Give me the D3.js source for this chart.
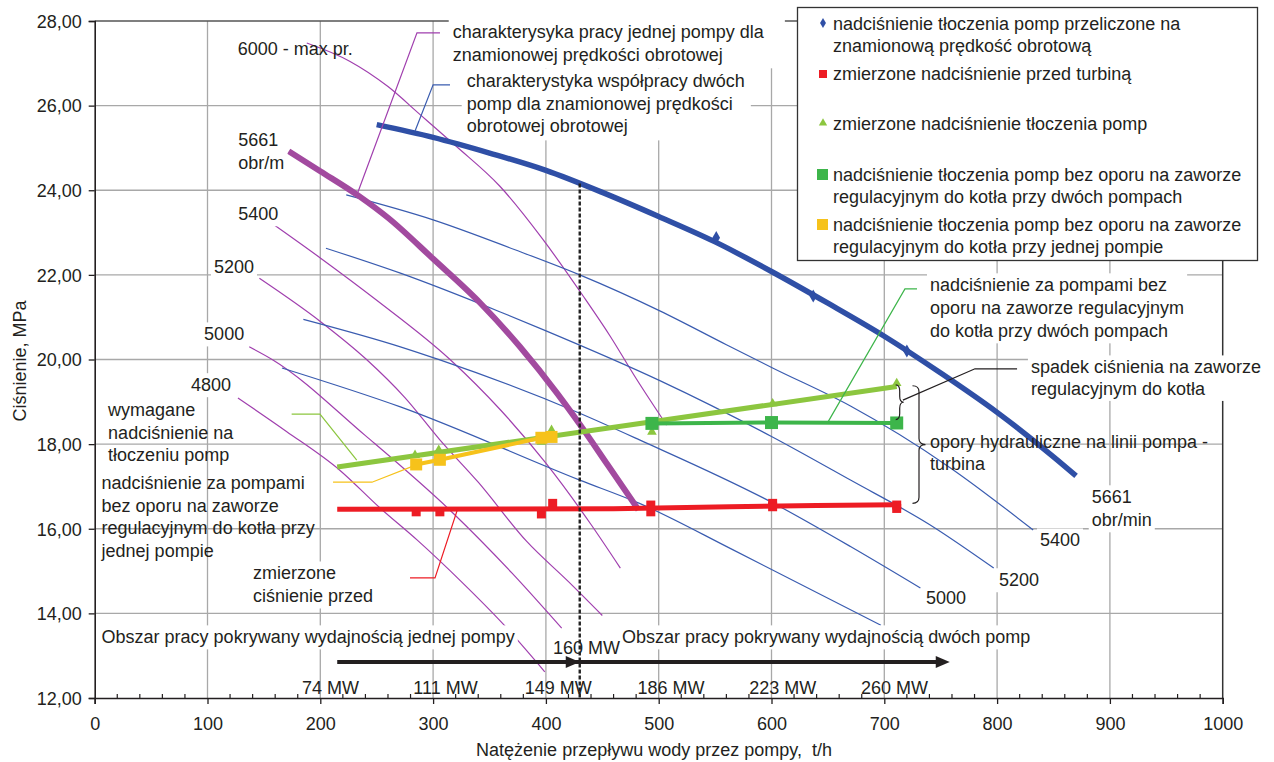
<!DOCTYPE html>
<html>
<head>
<meta charset="utf-8">
<script src="https://cdn.jsdelivr.net/npm/d3@7"></script>
<style>
  body { margin: 0; background: #ffffff; }
  svg text { font-family: "Liberation Sans", Arial, Helvetica, sans-serif; font-size: 18px; fill: #231f20; white-space: pre; }
</style>
</head>
<body>
<svg id="chart" width="1274" height="762"></svg>
<script>
// ---- axes ----
const flowTicks = [0, 100, 200, 300, 400, 500, 600, 700, 800, 900, 1000];
const pressureTicks = [12, 14, 16, 18, 20, 22, 24, 26, 28];

// ---- two pumps at nominal speed (recalculated discharge pressure), [t/h, MPa] ----
const twoPumpsNominal = [[250,25.55],[300,25.25],[350,24.88],[400,24.47],[450,23.95],[500,23.38],[550,22.78],[600,22.08],[650,21.33],[700,20.55],[750,19.68],[800,18.75],[850,17.70],[870,17.25]];
const twoPumpsNominalPoints = [[551,22.88],[637,21.50],[720,20.20]];

// ---- one pump at nominal speed 5661 rpm ----
const onePumpNominal = [[172,24.92],[200,24.45],[235,23.85],[260,23.35],[300,22.38],[342,21.33],[377,20.30],[410,19.20],[430,18.47],[455,17.50],[482,16.45]];

// ---- one pump at other speeds ----
const onePump6000 = [[188,27.48],[226,27.05],[260,26.45],[288,25.80],[320,25.05],[359,24.10],[397,22.85],[433,21.50],[457,20.55],[480,19.55],[507,18.45]];
const onePump5400 = [[157,23.22],[200,22.40],[250,21.40],[315,20.00],[360,18.80],[400,17.55],[440,16.10],[466,15.07]];
const onePump5200 = [[146,21.92],[200,20.90],[241,20.00],[275,19.10],[306,18.10],[340,17.10],[383,15.70],[420,14.75],[450,13.95]];
const onePump5000 = [[137,20.30],[158,19.99],[240,18.20],[318,16.36],[370,14.95],[414,13.65]];
const onePump4800 = [[127,19.09],[170,18.30],[217,17.39],[253,16.49],[286,15.73],[325,14.75],[362,13.75],[399,12.62]];

// ---- two pumps at other speeds ----
const twoPumps5400 = [[223,23.89],[300,23.30],[372,22.60],[430,22.00],[501,21.15],[560,20.35],[601,19.80],[670,18.90],[758,17.45],[832,15.97]];
const twoPumps5200 = [[205,22.63],[271,22.04],[359,21.13],[398,20.70],[501,19.50],[600,18.18],[670,17.15],[740,16.10],[797,15.07]];
const twoPumps5000 = [[185,20.95],[271,20.30],[306,19.99],[430,18.73],[483,18.10],[602,16.60],[670,15.58],[732,14.60]];
const twoPumps4800 = [[166,19.80],[271,18.88],[430,17.15],[483,16.60],[566,15.50],[697,13.72]];

// ---- measurements ----
const pumpDischarge = [[284,17.74],[305,17.86],[396,18.05],[405,18.33],[494,18.29],[601,18.96],[711,19.44]];
const requiredDischarge = [[215,17.46],[711,19.36]];
const noValveTwoPumps = [[494,18.49],[600,18.51],[711,18.50]];
const noValveOnePump = [[285,17.52],[306,17.63],[396,18.15],[405,18.17]];
const turbineInlet = [[285,16.40],[306,16.40],[396,16.35],[406,16.60],[493,16.56],[493,16.40],[601,16.60],[601,16.52],[711,16.56],[711,16.48]];
const turbineInletTrend = [[215,16.46],[460,16.47],[563,16.52],[640,16.55],[711,16.57]];

// ---- operating ranges and unit power ----
const switchFlow = 430;
const rangeArrow = [215, 430, 758];
const powerLabels = ["74 MW", "111 MW", "149 MW", "186 MW", "223 MW", "260 MW"];
const powerFlows = [209, 311, 411, 511, 610, 709];

// ---------------------------------------------------------------
const svg = d3.select("#chart");
const x = d3.scaleLinear().domain([0, 1000]).range([94.7, 1222.7]);
const y = d3.scaleLinear().domain([12, 28]).range([698, 21]);

const C = {
  blue: "#2f4fa6", blueThin: "#3a5cb0",
  purple: "#a24a9f", purpleThin: "#a03fae",
  lime: "#8cc63f", green: "#3db54a", yellow: "#f6c21b", red: "#ed1c24",
  grid: "#a8a8a8", ink: "#231f20"
};

const line = d3.line().x(d => x(d[0])).y(d => y(d[1]));
const smooth = d3.line().x(d => x(d[0])).y(d => y(d[1])).curve(d3.curveMonotoneX);

// grid
const grid = svg.append("g");
grid.selectAll("line.v").data(flowTicks.filter(d => d > 0 && d < 1000)).join("line")
  .attr("x1", d => x(d)).attr("x2", d => x(d)).attr("y1", y(12)).attr("y2", y(28))
  .attr("stroke", C.grid).attr("stroke-width", 1.3);
grid.selectAll("line.h").data(pressureTicks.filter(d => d > 12 && d < 28)).join("line")
  .attr("x1", x(0)).attr("x2", x(1000)).attr("y1", d => y(d)).attr("y2", d => y(d))
  .attr("stroke", C.grid).attr("stroke-width", 1.3);

// frame
svg.append("line").attr("x1", x(0)).attr("x2", x(1000)).attr("y1", y(28)).attr("y2", y(28))
  .attr("stroke", "#555").attr("stroke-width", 1.3);
svg.append("line").attr("x1", x(1000)).attr("x2", x(1000)).attr("y1", y(28)).attr("y2", y(12))
  .attr("stroke", "#333").attr("stroke-width", 1.5);

// axes
const xAxis = svg.append("g").attr("transform", `translate(0,${y(12)})`)
  .call(d3.axisBottom(x).tickValues(flowTicks).tickSize(6).tickPadding(13).tickFormat(d3.format("d")));
const yAxis = svg.append("g").attr("transform", `translate(${x(0)},0)`)
  .call(d3.axisLeft(y).tickValues(pressureTicks).tickSize(6).tickPadding(7).tickFormat(d => d.toFixed(2).replace(".", ",")));
[xAxis, yAxis].forEach(a => {
  a.select(".domain").attr("stroke", C.ink).attr("stroke-width", 1.6);
  a.selectAll(".tick line").attr("stroke", C.ink).attr("stroke-width", 1.3);
  a.selectAll("text").attr("font-family", null).attr("font-size", null).attr("fill", C.ink);
});
yAxis.selectAll(".tick text").attr("dy", "0.35em");
// minor ticks every 20 t/h
svg.append("g").selectAll("line").data(d3.range(20, 1000, 20).filter(d => d % 100 !== 0)).join("line")
  .attr("x1", d => x(d)).attr("x2", d => x(d)).attr("y1", y(12)).attr("y2", y(12) - 4)
  .attr("stroke", C.ink).attr("stroke-width", 1.2);

svg.append("text").attr("x", 654).attr("y", 750).attr("dy", "0.35em").attr("text-anchor", "middle")
  .text("Natężenie przepływu wody przez pompy,  t/h");
svg.append("text").attr("transform", "translate(20,361) rotate(-90)").attr("dy", "0.35em").attr("text-anchor", "middle")
  .text("Ciśnienie, MPa");

// pump curves
const curves = svg.append("g").attr("fill", "none");
[onePump6000, onePump5400, onePump5200, onePump5000, onePump4800].forEach(s =>
  curves.append("path").attr("d", smooth(s)).attr("stroke", C.purpleThin).attr("stroke-width", 1.2));
[twoPumps5400, twoPumps5200, twoPumps5000, twoPumps4800].forEach(s =>
  curves.append("path").attr("d", smooth(s)).attr("stroke", C.blueThin).attr("stroke-width", 1.2));
curves.append("path").attr("d", smooth(onePumpNominal)).attr("stroke", C.purple).attr("stroke-width", 6);
curves.append("path").attr("d", smooth(twoPumpsNominal)).attr("stroke", C.blue).attr("stroke-width", 5.5);
svg.append("g").selectAll("path").data(twoPumpsNominalPoints).join("path")
  .attr("d", d3.symbol(d3.symbolDiamond, 50)).attr("fill", C.blue)
  .attr("transform", d => `translate(${x(d[0])},${y(d[1])})`);

// measured series
const meas = svg.append("g");
meas.append("path").attr("d", line(requiredDischarge)).attr("fill", "none").attr("stroke", C.lime).attr("stroke-width", 5);
meas.selectAll("path.tri").data(pumpDischarge).join("path").attr("class", "tri")
  .attr("d", d3.symbol(d3.symbolTriangle, 40)).attr("fill", C.lime)
  .attr("transform", d => `translate(${x(d[0])},${y(d[1])})`);
meas.append("path").attr("d", line(noValveOnePump)).attr("fill", "none").attr("stroke", C.yellow).attr("stroke-width", 4);
meas.selectAll("rect.ys").data(noValveOnePump).join("rect").attr("class", "ys")
  .attr("x", d => x(d[0]) - 6).attr("y", d => y(d[1]) - 6).attr("width", 12).attr("height", 12).attr("fill", C.yellow);
meas.append("path").attr("d", line(noValveTwoPumps)).attr("fill", "none").attr("stroke", C.green).attr("stroke-width", 4);
meas.selectAll("rect.gs").data(noValveTwoPumps).join("rect").attr("class", "gs")
  .attr("x", d => x(d[0]) - 6.5).attr("y", d => y(d[1]) - 6.5).attr("width", 13).attr("height", 13).attr("fill", C.green);
meas.selectAll("rect.rs").data(turbineInlet).join("rect").attr("class", "rs")
  .attr("x", d => x(d[0]) - 4.5).attr("y", d => y(d[1]) - 4.5).attr("width", 9).attr("height", 9).attr("fill", C.red);
meas.append("path").attr("d", line(turbineInletTrend)).attr("fill", "none").attr("stroke", C.red).attr("stroke-width", 5);

// switch-over line between one and two pump operation
const topAtSwitch = d3.scaleLinear().domain(twoPumpsNominal.map(d => d[0])).range(twoPumpsNominal.map(d => d[1]))(switchFlow);
svg.append("line").attr("x1", x(switchFlow)).attr("x2", x(switchFlow)).attr("y1", y(topAtSwitch)).attr("y2", y(12))
  .attr("stroke", "#222").attr("stroke-width", 2.4).attr("stroke-dasharray", "4,2");

// operating range arrow
const arrowY = 12.85;
svg.append("line").attr("x1", x(rangeArrow[0])).attr("x2", x(rangeArrow[2]) - 8).attr("y1", y(arrowY)).attr("y2", y(arrowY))
  .attr("stroke", C.ink).attr("stroke-width", 4);
svg.append("g").selectAll("path").data(rangeArrow.slice(1)).join("path")
  .attr("d", d => `M${x(d)},${y(arrowY)} l-14,-6 l0,12 z`).attr("fill", C.ink);

// leader lines
const leaders = [
  { pts: [[306.1,27.72],[285.7,27.72],[233.4,23.96]], color: C.purpleThin },
  { pts: [[315,26.49],[300,26.49],[284,25.40]], color: C.blueThin },
  { pts: [[174.6,18.71],[199.7,18.71],[232.3,17.62]], color: C.lime },
  { pts: [[211.3,17.10],[245.8,17.10],[282.2,17.48]], color: C.yellow },
  { pts: [[279.5,14.84],[301.7,14.84],[322,16.49]], color: C.red },
  { pts: [[729,21.67],[718.3,21.67],[650,18.52]], color: C.green },
  { pts: [[817.7,19.78],[780.4,19.78],[716.5,19.04]], color: C.ink }
];
svg.append("g").attr("fill", "none").selectAll("path").data(leaders).join("path")
  .attr("d", d => line(d.pts)).attr("stroke", d => d.color).attr("stroke-width", 1.2);

// curly braces
function brace(px, y1, y2, w) {
  const m = (y1 + y2) / 2, h = w / 2, r = Math.min(6, (y2 - y1) / 4);
  return `M${px},${y1} Q${px + h},${y1} ${px + h},${y1 + r} L${px + h},${m - r} Q${px + h},${m} ${px + w},${m}` +
         ` Q${px + h},${m} ${px + h},${m + r} L${px + h},${y2 - r} Q${px + h},${y2} ${px},${y2}`;
}
svg.append("path").attr("d", brace(x(711) - 1, y(19.40), y(18.58), 8)).attr("fill", "none").attr("stroke", C.ink).attr("stroke-width", 1.2);
svg.append("path").attr("d", brace(x(725), y(19.38), y(16.60), 13)).attr("fill", "none").attr("stroke", C.ink).attr("stroke-width", 1.2);

// text annotations: [lines], [flow, pressure] of first line (left edge, centre), white box
const annotations = [
  { t: ["6000 - max pr."], at: [126.8, 27.34] },
  { t: ["5661", "obr/m"], at: [127.3, 25.19], bg: true, lh: 23 },
  { t: ["5400"], at: [127.3, 23.44], bg: true },
  { t: ["5200"], at: [105.7, 22.19], bg: true },
  { t: ["5000"], at: [97, 20.60], bg: true },
  { t: ["4800"], at: [85.3, 19.40], bg: true },
  { t: ["wymagane", "nadciśnienie na", "tłoczeniu pomp"], at: [11.9, 18.81], lh: 22.5 },
  { t: ["nadciśnienie za pompami", "bez oporu na zaworze", "regulacyjnym do kotła przy", "jednej pompie"], at: [6.1, 17.08], lh: 22.5 },
  { t: ["zmierzone", "ciśnienie przed"], at: [140.3, 14.95], lh: 23, bg: true },
  { t: ["charakterysyka pracy jednej pompy dla", "znamionowej prędkości obrotowej"], at: [317.4, 27.74], lh: 23, bg: true, pad: [4, 8, 20, 3] },
  { t: ["charakterystyka współpracy dwóch", "pomp dla znamionowej prędkości", "obrotowej obrotowej"], at: [329.8, 26.58], lh: 22.5, bg: true, pad: [5, 3, 6, 4] },
  { t: ["nadciśnienie za pompami bez", "oporu na zaworze regulacyjnym", "do kotła przy dwóch pompach"], at: [740.5, 21.76], lh: 23, bg: true },
  { t: ["spadek ciśnienia na zaworze", "regulacyjnym do kotła"], at: [830, 19.82], lh: 21.5, bg: true },
  { t: ["opory hydrauliczne na linii pompa -", "turbina"], at: [740.5, 18.05], lh: 21.5 },
  { t: ["5661", "obr/min"], at: [883.9, 16.75], lh: 23, bg: true },
  { t: ["5400"], at: [838, 15.73], bg: true },
  { t: ["5200"], at: [801.7, 14.79], bg: true },
  { t: ["5000"], at: [737, 14.36], bg: true },
  { t: ["Obszar pracy pokrywany wydajnością jednej pompy"], at: [6.1, 13.44], bg: true },
  { t: ["Obszar pracy pokrywany wydajnością dwóch pomp"], at: [467.5, 13.44], bg: true },
  { t: ["160 MW"], at: [406.3, 13.18] }
];
const notes = svg.append("g");
annotations.forEach(a => {
  const g = notes.append("g");
  const px = x(a.at[0]), py = y(a.at[1]), lh = a.lh || 22.5;
  const t = g.append("text");
  a.t.forEach((s, i) => t.append("tspan").attr("x", px).attr("y", py + i * lh).attr("dy", "0.35em").text(s));
  if (a.bg) {
    const b = t.node().getBBox(), p = a.pad || [3, 2, 3, 2];
    g.insert("rect", "text").attr("x", b.x - p[0]).attr("y", b.y - p[1])
      .attr("width", b.width + p[0] + p[2]).attr("height", b.height + p[1] + p[3]).attr("fill", "#fff");
  }
});
svg.append("g").selectAll("text").data(powerLabels).join("text")
  .attr("x", (d, i) => x(powerFlows[i])).attr("y", y(12.24)).attr("dy", "0.35em").attr("text-anchor", "middle").text(d => d);

// legend
const legendItems = [
  { t: ["nadciśnienie tłoczenia pomp przeliczone na", "znamionową prędkość obrotową"], mark: "diamond", color: C.blue, yy: 24 },
  { t: ["zmierzone nadciśnienie przed turbiną"], mark: "small", color: C.red, yy: 74 },
  { t: ["zmierzone nadciśnienie tłoczenia pomp"], mark: "triangle", color: C.lime, yy: 124 },
  { t: ["nadciśnienie tłoczenia pomp bez oporu na zaworze", "regulacyjnym do kotła przy dwóch pompach"], mark: "square", color: C.green, yy: 175 },
  { t: ["nadciśnienie tłoczenia pomp bez oporu na zaworze", "regulacyjnym do kotła przy jednej pompie"], mark: "square", color: C.yellow, yy: 225 }
];
const lg = svg.append("g");
lg.append("rect").attr("x", 797.5).attr("y", 7.5).attr("width", 460).attr("height", 253)
  .attr("fill", "#fff").attr("stroke", "#333").attr("stroke-width", 1.3);
legendItems.forEach(it => {
  const t = lg.append("text");
  it.t.forEach((s, i) => t.append("tspan").attr("x", 833).attr("y", it.yy + i * 21.5).attr("dy", "0.35em").text(s));
  const mx = 823, my = it.yy;
  if (it.mark === "diamond") lg.append("path").attr("d", d3.symbol(d3.symbolDiamond, 30)).attr("transform", `translate(${mx},${my - 1})`).attr("fill", it.color);
  if (it.mark === "triangle") lg.append("path").attr("d", d3.symbol(d3.symbolTriangle, 30)).attr("transform", `translate(${mx},${my - 1})`).attr("fill", it.color);
  if (it.mark === "small") lg.append("rect").attr("x", mx - 4).attr("y", my - 4).attr("width", 8).attr("height", 8).attr("fill", it.color);
  if (it.mark === "square") lg.append("rect").attr("x", mx - 6).attr("y", my - 6).attr("width", 11).attr("height", 11).attr("fill", it.color);
});
</script>
</body>
</html>
